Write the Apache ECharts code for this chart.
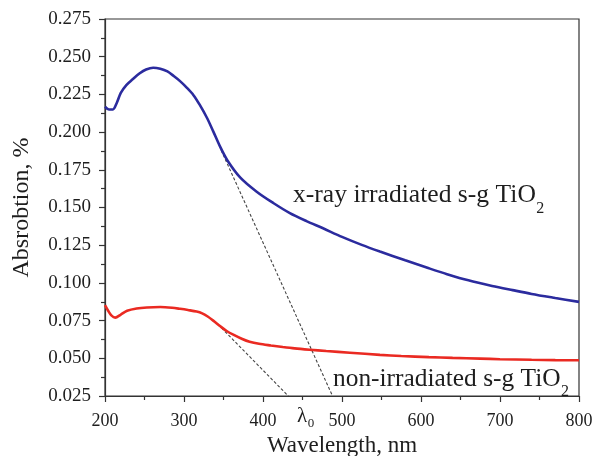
<!DOCTYPE html>
<html>
<head>
<meta charset="utf-8">
<script src="https://cdn.jsdelivr.net/npm/echarts@6/dist/echarts.min.js"></script>
<style>
  html, body { margin: 0; padding: 0; background: #fff; }
  #chart { width: 596px; height: 456px; }
</style>
</head>
<body>
<div id="chart"></div>
<script>
// Absorption spectra of sol-gel TiO2 before and after x-ray irradiation
const wavelengthIrr = [200, 205, 210, 215, 220, 227, 235, 244, 252, 261, 270, 279, 287, 295, 304, 312, 320, 329, 337, 346, 355, 371, 392, 413, 434, 455, 476, 500, 525, 548, 580, 610, 633, 660, 690, 716, 740, 770, 800];
const absorptionIrr = [0.2168, 0.2150, 0.2150, 0.2195, 0.2260, 0.2312, 0.2350, 0.2390, 0.2415, 0.2427, 0.2420, 0.2402, 0.2372, 0.2338, 0.2292, 0.2245, 0.2180, 0.2095, 0.2005, 0.1900, 0.1812, 0.1700, 0.1605, 0.1530, 0.1463, 0.1410, 0.1362, 0.1305, 0.1252, 0.1208, 0.1150, 0.1097, 0.1058, 0.1017, 0.0980, 0.0952, 0.0927, 0.0900, 0.0874];

const wavelengthNon = [200, 204, 208, 213, 220, 228, 240, 253, 270, 285, 295, 305, 316, 323, 330, 337, 346, 354, 363, 373, 383, 395, 410, 425, 440, 459, 480, 510, 548, 575, 610, 640, 675, 700, 740, 770, 800];
const absorptionNon = [0.0852, 0.0815, 0.0785, 0.0770, 0.0790, 0.0815, 0.0830, 0.0837, 0.0840, 0.0835, 0.0828, 0.0820, 0.0810, 0.0798, 0.0777, 0.0750, 0.0712, 0.0681, 0.0655, 0.0630, 0.0610, 0.0596, 0.0585, 0.0575, 0.0566, 0.0557, 0.0548, 0.0537, 0.0523, 0.0515, 0.0508, 0.0503, 0.0498, 0.0494, 0.0490, 0.0488, 0.0487];

// Tangents to the absorption edges, extrapolated to the baseline
const tangentIrrX = [347, 488];
const tangentIrrY = [0.188, 0.025];
const tangentNonX = [343, 432];
const tangentNonY = [0.0725, 0.025];

const xMin = 200, xMax = 800, xStep = 100;
const yMin = 0.025, yMax = 0.275, yStep = 0.025;

const labelIrr = 'x-ray irradiated s-g TiO';
const labelNon = 'non-irradiated s-g TiO';
const subscriptTwo = '2';
const edgeSymbol = 'λ';
const edgeSubscript = '0';

const FONT_NAME = 'Liberation Serif';
const FONT = '"Liberation Serif", "Times New Roman", serif';
const INK = '#1e1e1e';

const pairs = (xs, ys) => xs.map((x, i) => [x, ys[i]]);

const chart = echarts.init(document.getElementById('chart'), null, { renderer: 'canvas' });

chart.setOption({
  animation: false,
  backgroundColor: '#fff',
  grid: {
    left: 105, top: 19, right: 17, bottom: 60,
    outerBoundsMode: 'none', containLabel: false,
    show: true, borderColor: '#333', borderWidth: 1.2, backgroundColor: 'transparent'
  },
  xAxis: {
    type: 'value', min: xMin, max: xMax, interval: xStep,
    name: 'Wavelength, nm', nameLocation: 'middle', nameGap: 29,
    nameTextStyle: { fontFamily: FONT, fontSize: 23, color: INK },
    axisLine: { show: true, lineStyle: { color: '#333', width: 1.2 } },
    axisTick: { show: true, inside: false, length: 6, lineStyle: { color: '#333', width: 1.2 } },
    minorTick: { show: true, splitNumber: 2, length: 4, lineStyle: { color: '#333', width: 1.2 } },
    splitLine: { show: false },
    axisLabel: { fontFamily: FONT, fontSize: 18, color: INK, margin: 16 }
  },
  yAxis: {
    type: 'value', min: yMin, max: yMax, interval: yStep,
    name: 'Absrobtion, %', nameLocation: 'middle', nameGap: 71, nameRotate: 90,
    nameTextStyle: { fontFamily: FONT, fontSize: 24, color: INK },
    axisLine: { show: true, lineStyle: { color: '#333', width: 1.2 } },
    axisTick: { show: true, inside: false, length: 6, lineStyle: { color: '#333', width: 1.2 } },
    minorTick: { show: true, splitNumber: 2, length: 4, lineStyle: { color: '#333', width: 1.2 } },
    splitLine: { show: false },
    axisLabel: {
      fontFamily: FONT, fontSize: 19, color: INK, margin: 14,
      formatter: v => v.toFixed(3)
    }
  },
  series: [
    {
      name: 'tangent irradiated', type: 'line', data: pairs(tangentIrrX, tangentIrrY),
      symbol: 'none', silent: true, z: 1,
      lineStyle: { color: '#444', width: 1.1, type: [3, 2] }
    },
    {
      name: 'tangent non-irradiated', type: 'line', data: pairs(tangentNonX, tangentNonY),
      symbol: 'none', silent: true, z: 1,
      lineStyle: { color: '#444', width: 1.1, type: [3, 2] }
    },
    {
      name: 'irradiated', type: 'line', data: pairs(wavelengthIrr, absorptionIrr),
      symbol: 'none', smooth: 0.3, z: 3,
      lineStyle: { color: '#2b2b9e', width: 2.6 }
    },
    {
      name: 'non-irradiated', type: 'line', data: pairs(wavelengthNon, absorptionNon),
      symbol: 'none', smooth: 0.3, z: 3,
      lineStyle: { color: '#ea2a22', width: 2.6 }
    }
  ]
});

// Measure text so the subscript can follow its base string
const measureCtx = document.createElement('canvas').getContext('2d');
function textWidth(str, size) {
  measureCtx.font = size + 'px "' + FONT_NAME + '"';
  return measureCtx.measureText(str).width;
}

// Base string plus subscript, anchored at the left end of the baseline (data space)
const MID_TO_BASELINE = 0.305;
function labelWithSubscript(x, y, base, sub, baseSize, subSize, drop) {
  const p = chart.convertToPixel({ gridIndex: 0 }, [x, y]);
  const w = textWidth(base, baseSize);
  const common = { fontFamily: FONT, fill: INK, align: 'left', verticalAlign: 'middle' };
  return [
    {
      type: 'text', x: p[0], y: p[1] - MID_TO_BASELINE * baseSize, z: 10, silent: true,
      style: Object.assign({ text: base, fontSize: baseSize }, common)
    },
    {
      type: 'text', x: p[0] + w + 0.5, y: p[1] + drop - MID_TO_BASELINE * subSize, z: 10, silent: true,
      style: Object.assign({ text: sub, fontSize: subSize }, common)
    }
  ];
}

chart.setOption({
  graphic: [].concat(
    labelWithSubscript(438, 0.1529, labelIrr, subscriptTwo, 25.6, 16, 11),
    labelWithSubscript(488.6, 0.0308, labelNon, subscriptTwo, 25.4, 16, 9),
    labelWithSubscript(443, 0.0075, edgeSymbol, edgeSubscript, 21, 13, 5)
  )
});
</script>
</body>
</html>
